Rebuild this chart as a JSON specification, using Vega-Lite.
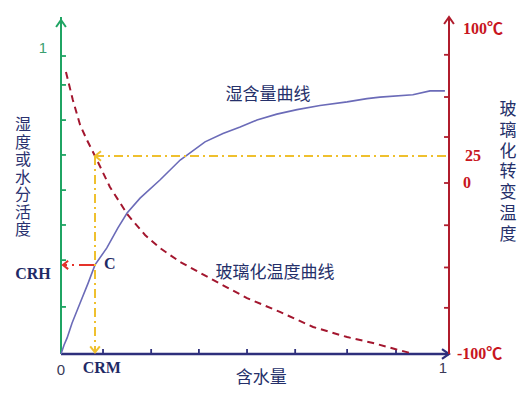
{
  "$schema": "https://vega.github.io/schema/vega-lite/v6.json",
  "width": 388,
  "height": 337,
  "autosize": {"type": "none"},
  "padding": {"left": 61, "top": 17, "right": 83, "bottom": 41},
  "background": "white",
  "config": {"view": {"stroke": null}},
  "resolve": {"scale": {"y": "independent"}},
  "layer": [
    {
      "layer": [
        {
          "data": {"values": [{"x": 0, "x2": 0, "h": 0, "h2": 1.1309}]},
          "mark": {"type": "rule", "color": "#1fa463", "strokeWidth": 2},
          "encoding": {
            "x": {"field": "x", "type": "quantitative", "scale": {"domain": [0, 1.0157], "nice": false, "zero": false}, "axis": null},
            "x2": {"field": "x2"},
            "y": {"field": "h", "type": "quantitative", "scale": {"domain": [0, 1.1309], "nice": false, "zero": false}, "axis": null},
            "y2": {"field": "h2"}
          }
        },
        {
          "data": {"values": [
            {"x": 0, "x2": 0.013, "h": 1}, {"x": 0, "x2": 0.013, "h": 0.903},
            {"x": 0, "x2": 0.013, "h": 0.785}, {"x": 0, "x2": 0.013, "h": 0.668},
            {"x": 0, "x2": 0.013, "h": 0.550}, {"x": 0, "x2": 0.013, "h": 0.433},
            {"x": 0, "x2": 0.013, "h": 0.315}, {"x": 0, "x2": 0.013, "h": 0.158}
          ]},
          "mark": {"type": "rule", "color": "#1fa463", "strokeWidth": 1.8},
          "encoding": {
            "x": {"field": "x", "type": "quantitative", "scale": {"domain": [0, 1.0157], "nice": false, "zero": false}, "axis": null},
            "x2": {"field": "x2"},
            "y": {"field": "h", "type": "quantitative", "scale": {"domain": [0, 1.1309], "nice": false, "zero": false}, "axis": null}
          }
        },
        {
          "data": {"values": [{"x": 0, "x2": 1.0157, "h": 0}]},
          "mark": {"type": "rule", "color": "#2e2f7c", "strokeWidth": 2.5},
          "encoding": {
            "x": {"field": "x", "type": "quantitative", "scale": {"domain": [0, 1.0157], "nice": false, "zero": false}, "axis": null},
            "x2": {"field": "x2"},
            "y": {"field": "h", "type": "quantitative", "scale": {"domain": [0, 1.1309], "nice": false, "zero": false}, "axis": null}
          }
        },
        {
          "data": {"values": [
            {"x": 0.110, "h": 0, "h2": 0.0168}, {"x": 0.236, "h": 0, "h2": 0.0168},
            {"x": 0.361, "h": 0, "h2": 0.0168}, {"x": 0.487, "h": 0, "h2": 0.0168},
            {"x": 0.613, "h": 0, "h2": 0.0168}, {"x": 0.749, "h": 0, "h2": 0.0168},
            {"x": 0.877, "h": 0, "h2": 0.0168}
          ]},
          "mark": {"type": "rule", "color": "#2e2f7c", "strokeWidth": 1.8},
          "encoding": {
            "x": {"field": "x", "type": "quantitative", "scale": {"domain": [0, 1.0157], "nice": false, "zero": false}, "axis": null},
            "y": {"field": "h", "type": "quantitative", "scale": {"domain": [0, 1.1309], "nice": false, "zero": false}, "axis": null},
            "y2": {"field": "h2"}
          }
        },
        {
          "data": {"values": [
            {"x": 0, "h": 0}, {"x": 0.008, "h": 0.030}, {"x": 0.016, "h": 0.054},
            {"x": 0.029, "h": 0.104}, {"x": 0.050, "h": 0.171}, {"x": 0.071, "h": 0.238},
            {"x": 0.089, "h": 0.299}, {"x": 0.120, "h": 0.356}, {"x": 0.149, "h": 0.423},
            {"x": 0.173, "h": 0.473}, {"x": 0.207, "h": 0.523}, {"x": 0.259, "h": 0.584},
            {"x": 0.312, "h": 0.651}, {"x": 0.377, "h": 0.712}, {"x": 0.424, "h": 0.740},
            {"x": 0.469, "h": 0.762}, {"x": 0.513, "h": 0.785}, {"x": 0.565, "h": 0.805},
            {"x": 0.618, "h": 0.820}, {"x": 0.678, "h": 0.834}, {"x": 0.749, "h": 0.846},
            {"x": 0.801, "h": 0.857}, {"x": 0.835, "h": 0.862}, {"x": 0.921, "h": 0.870},
            {"x": 0.966, "h": 0.883}, {"x": 1.005, "h": 0.883}
          ]},
          "mark": {"type": "line", "color": "#6b6bb8", "strokeWidth": 1.6},
          "encoding": {
            "x": {"field": "x", "type": "quantitative", "scale": {"domain": [0, 1.0157], "nice": false, "zero": false}, "axis": null},
            "y": {"field": "h", "type": "quantitative", "scale": {"domain": [0, 1.1309], "nice": false, "zero": false}, "axis": null}
          }
        },
        {
          "data": {"values": [{"x": 0.089, "h": 0.299}, {"x": 0.006, "h": 0.299}]},
          "mark": {"type": "line", "color": "#e5322a", "strokeWidth": 2, "strokeDash": [16, 5, 2, 5]},
          "encoding": {
            "x": {"field": "x", "type": "quantitative", "scale": {"domain": [0, 1.0157], "nice": false, "zero": false}, "axis": null},
            "y": {"field": "h", "type": "quantitative", "scale": {"domain": [0, 1.1309], "nice": false, "zero": false}, "axis": null},
            "order": {"field": "x", "sort": "descending"}
          }
        },
        {
          "data": {"values": [{"x": 0.005, "h": 0.299}]},
          "mark": {"type": "point", "shape": "M1,-0.8L0,0L1,0.8", "size": 110, "filled": false, "stroke": "#e5322a", "strokeWidth": 2, "opacity": 1},
          "encoding": {
            "x": {"field": "x", "type": "quantitative", "scale": {"domain": [0, 1.0157], "nice": false, "zero": false}, "axis": null},
            "y": {"field": "h", "type": "quantitative", "scale": {"domain": [0, 1.1309], "nice": false, "zero": false}, "axis": null}
          }
        },
        {
          "data": {"values": [{"x": 0, "h": 1.121}]},
          "mark": {"type": "point", "shape": "M-0.7,1L0,0L0.7,1", "size": 196, "filled": false, "stroke": "#1fa463", "strokeWidth": 2, "opacity": 1},
          "encoding": {
            "x": {"field": "x", "type": "quantitative", "scale": {"domain": [0, 1.0157], "nice": false, "zero": false}, "axis": null},
            "y": {"field": "h", "type": "quantitative", "scale": {"domain": [0, 1.1309], "nice": false, "zero": false}, "axis": null}
          }
        },
        {
          "data": {"values": [{"x": 1.0157, "h": 0}]},
          "mark": {"type": "point", "shape": "M-1,-0.7L0,0L-1,0.7", "size": 196, "filled": false, "stroke": "#2e2f7c", "strokeWidth": 2.2, "opacity": 1},
          "encoding": {
            "x": {"field": "x", "type": "quantitative", "scale": {"domain": [0, 1.0157], "nice": false, "zero": false}, "axis": null},
            "y": {"field": "h", "type": "quantitative", "scale": {"domain": [0, 1.1309], "nice": false, "zero": false}, "axis": null}
          }
        },
        {
          "data": {"values": [
            {"x": 0.542, "h": 0.869, "label": "湿含量曲线"},
            {"x": 0.560, "h": 0.272, "label": "玻璃化温度曲线"},
            {"x": 0.524, "h": -0.081, "label": "含水量"}
          ]},
          "mark": {"type": "text", "font": "Noto Sans CJK SC", "fontSize": 17, "color": "#25306a", "align": "center", "baseline": "middle"},
          "encoding": {
            "x": {"field": "x", "type": "quantitative", "scale": {"domain": [0, 1.0157], "nice": false, "zero": false}, "axis": null},
            "y": {"field": "h", "type": "quantitative", "scale": {"domain": [0, 1.1309], "nice": false, "zero": false}, "axis": null},
            "text": {"field": "label"}
          }
        },
        {
          "data": {"values": [{"x": -0.0995, "h": 0.768, "label": "湿\n度\n或\n水\n分\n活\n度"}]},
          "mark": {"type": "text", "font": "Noto Sans CJK SC", "fontSize": 16, "color": "#2a3270", "align": "center", "baseline": "middle", "lineBreak": "\n", "lineHeight": 17.5},
          "encoding": {
            "x": {"field": "x", "type": "quantitative", "scale": {"domain": [0, 1.0157], "nice": false, "zero": false}, "axis": null},
            "y": {"field": "h", "type": "quantitative", "scale": {"domain": [0, 1.1309], "nice": false, "zero": false}, "axis": null},
            "text": {"field": "label"}
          }
        },
        {
          "data": {"values": [
            {"x": -0.0733, "h": 0.268, "label": "CRH"},
            {"x": 0.128, "h": 0.302, "label": "C"},
            {"x": 0.107, "h": -0.047, "label": "CRM"}
          ]},
          "mark": {"type": "text", "font": "Liberation Serif", "fontWeight": "bold", "fontSize": 16, "color": "#1f2a66", "align": "center", "baseline": "middle"},
          "encoding": {
            "x": {"field": "x", "type": "quantitative", "scale": {"domain": [0, 1.0157], "nice": false, "zero": false}, "axis": null},
            "y": {"field": "h", "type": "quantitative", "scale": {"domain": [0, 1.1309], "nice": false, "zero": false}, "axis": null},
            "text": {"field": "label"}
          }
        },
        {
          "data": {"values": [
            {"x": 0, "h": -0.054, "label": "0"},
            {"x": 1, "h": -0.047, "label": "1"}
          ]},
          "mark": {"type": "text", "font": "Liberation Sans", "fontSize": 15, "color": "#3a3a58", "align": "center", "baseline": "middle"},
          "encoding": {
            "x": {"field": "x", "type": "quantitative", "scale": {"domain": [0, 1.0157], "nice": false, "zero": false}, "axis": null},
            "y": {"field": "h", "type": "quantitative", "scale": {"domain": [0, 1.1309], "nice": false, "zero": false}, "axis": null},
            "text": {"field": "label"}
          }
        },
        {
          "data": {"values": [{"x": -0.047, "h": 1, "label": "1"}]},
          "mark": {"type": "text", "font": "Liberation Sans", "fontSize": 15, "color": "#3aa070", "align": "center", "baseline": "middle", "dy": -8},
          "encoding": {
            "x": {"field": "x", "type": "quantitative", "scale": {"domain": [0, 1.0157], "nice": false, "zero": false}, "axis": null},
            "y": {"field": "h", "type": "quantitative", "scale": {"domain": [0, 1.1309], "nice": false, "zero": false}, "axis": null},
            "text": {"field": "label"}
          }
        }
      ]
    },
    {
      "layer": [
        {
          "data": {"values": [{"x": 1.0157, "t": -100, "t2": 107}]},
          "mark": {"type": "rule", "color": "#b01c2c", "strokeWidth": 2},
          "encoding": {
            "x": {"field": "x", "type": "quantitative", "scale": {"domain": [0, 1.0157], "nice": false, "zero": false}, "axis": null},
            "y": {"field": "t", "type": "quantitative", "scale": {"domain": [-100, 0, 25, 107], "range": [337, 166, 139, 0], "nice": false, "zero": false}, "axis": null},
            "y2": {"field": "t2"}
          }
        },
        {
          "data": {"values": [
            {"x": 1.0027, "x2": 1.0157, "t": 84.7}, {"x": 1.0027, "x2": 1.0157, "t": 59.8},
            {"x": 1.0027, "x2": 1.0157, "t": 36.2}, {"x": 1.0027, "x2": 1.0157, "t": 0},
            {"x": 1.0027, "x2": 1.0157, "t": -24.7}, {"x": 1.0027, "x2": 1.0157, "t": -49.4},
            {"x": 1.0027, "x2": 1.0157, "t": -73}
          ]},
          "mark": {"type": "rule", "color": "#b01c2c", "strokeWidth": 1.8},
          "encoding": {
            "x": {"field": "x", "type": "quantitative", "scale": {"domain": [0, 1.0157], "nice": false, "zero": false}, "axis": null},
            "x2": {"field": "x2"},
            "y": {"field": "t", "type": "quantitative", "scale": {"domain": [-100, 0, 25, 107], "range": [337, 166, 139, 0], "nice": false, "zero": false}, "axis": null}
          }
        },
        {
          "data": {"values": [
            {"x": 0.013, "t": 74.6}, {"x": 0.031, "t": 58.0}, {"x": 0.050, "t": 43.3},
            {"x": 0.068, "t": 34.4}, {"x": 0.089, "t": 25}, {"x": 0.128, "t": -2.3},
            {"x": 0.175, "t": -18.7}, {"x": 0.220, "t": -30.4}, {"x": 0.259, "t": -38.0},
            {"x": 0.312, "t": -46.2}, {"x": 0.398, "t": -56.7}, {"x": 0.487, "t": -67.3},
            {"x": 0.573, "t": -75.4}, {"x": 0.660, "t": -84.2}, {"x": 0.749, "t": -90.1},
            {"x": 0.817, "t": -93.6}, {"x": 0.874, "t": -97.1}, {"x": 0.914, "t": -99.4}
          ]},
          "mark": {"type": "line", "color": "#a3162e", "strokeWidth": 2, "strokeDash": [7, 5]},
          "encoding": {
            "x": {"field": "x", "type": "quantitative", "scale": {"domain": [0, 1.0157], "nice": false, "zero": false}, "axis": null},
            "y": {"field": "t", "type": "quantitative", "scale": {"domain": [-100, 0, 25, 107], "range": [337, 166, 139, 0], "nice": false, "zero": false}, "axis": null}
          }
        },
        {
          "data": {"values": [
            {"seg": "across", "x": 0.089, "t": 25}, {"seg": "across", "x": 1.0157, "t": 25},
            {"seg": "down", "x": 0.089, "t": 25}, {"seg": "down", "x": 0.089, "t": -99}
          ]},
          "mark": {"type": "line", "color": "#efc02e", "strokeWidth": 2, "strokeDash": [9, 4, 2, 4]},
          "encoding": {
            "x": {"field": "x", "type": "quantitative", "scale": {"domain": [0, 1.0157], "nice": false, "zero": false}, "axis": null},
            "y": {"field": "t", "type": "quantitative", "scale": {"domain": [-100, 0, 25, 107], "range": [337, 166, 139, 0], "nice": false, "zero": false}, "axis": null},
            "detail": {"field": "seg"}
          }
        },
        {
          "data": {"values": [{"x": 0.089, "t": 25}]},
          "mark": {"type": "point", "shape": "M1,-0.8L0,0L1,0.8", "size": 144, "filled": false, "stroke": "#efc02e", "strokeWidth": 2, "opacity": 1},
          "encoding": {
            "x": {"field": "x", "type": "quantitative", "scale": {"domain": [0, 1.0157], "nice": false, "zero": false}, "axis": null},
            "y": {"field": "t", "type": "quantitative", "scale": {"domain": [-100, 0, 25, 107], "range": [337, 166, 139, 0], "nice": false, "zero": false}, "axis": null}
          }
        },
        {
          "data": {"values": [{"x": 0.089, "t": -99}]},
          "mark": {"type": "point", "shape": "M-0.8,-1L0,0L0.8,-1", "size": 144, "filled": false, "stroke": "#efc02e", "strokeWidth": 2, "opacity": 1},
          "encoding": {
            "x": {"field": "x", "type": "quantitative", "scale": {"domain": [0, 1.0157], "nice": false, "zero": false}, "axis": null},
            "y": {"field": "t", "type": "quantitative", "scale": {"domain": [-100, 0, 25, 107], "range": [337, 166, 139, 0], "nice": false, "zero": false}, "axis": null}
          }
        },
        {
          "data": {"values": [{"x": 1.0157, "t": 107}]},
          "mark": {"type": "point", "shape": "M-0.7,1L0,0L0.7,1", "size": 196, "filled": false, "stroke": "#b01c2c", "strokeWidth": 2, "opacity": 1},
          "encoding": {
            "x": {"field": "x", "type": "quantitative", "scale": {"domain": [0, 1.0157], "nice": false, "zero": false}, "axis": null},
            "y": {"field": "t", "type": "quantitative", "scale": {"domain": [-100, 0, 25, 107], "range": [337, 166, 139, 0], "nice": false, "zero": false}, "axis": null}
          }
        },
        {
          "data": {"values": [
            {"x": 1.0524, "t": 100, "label": "100℃"},
            {"x": 1.0576, "t": 25, "label": "25"},
            {"x": 1.0524, "t": 0, "label": "0"},
            {"x": 1.0366, "t": -100, "label": "-100℃"}
          ]},
          "mark": {"type": "text", "font": "Liberation Serif, Noto Sans CJK SC", "fontWeight": "bold", "fontSize": 16, "color": "#c8161e", "align": "left", "baseline": "middle"},
          "encoding": {
            "x": {"field": "x", "type": "quantitative", "scale": {"domain": [0, 1.0157], "nice": false, "zero": false}, "axis": null},
            "y": {"field": "t", "type": "quantitative", "scale": {"domain": [-100, 0, 25, 107], "range": [337, 166, 139, 0], "nice": false, "zero": false}, "axis": null},
            "text": {"field": "label"}
          }
        },
        {
          "data": {"values": [{"x": 1.170, "t": 52.1, "label": "玻\n璃\n化\n转\n变\n温\n度"}]},
          "mark": {"type": "text", "font": "Noto Sans CJK SC", "fontSize": 17, "color": "#25306a", "align": "center", "baseline": "middle", "lineBreak": "\n", "lineHeight": 20.8},
          "encoding": {
            "x": {"field": "x", "type": "quantitative", "scale": {"domain": [0, 1.0157], "nice": false, "zero": false}, "axis": null},
            "y": {"field": "t", "type": "quantitative", "scale": {"domain": [-100, 0, 25, 107], "range": [337, 166, 139, 0], "nice": false, "zero": false}, "axis": null},
            "text": {"field": "label"}
          }
        }
      ]
    }
  ]
}
